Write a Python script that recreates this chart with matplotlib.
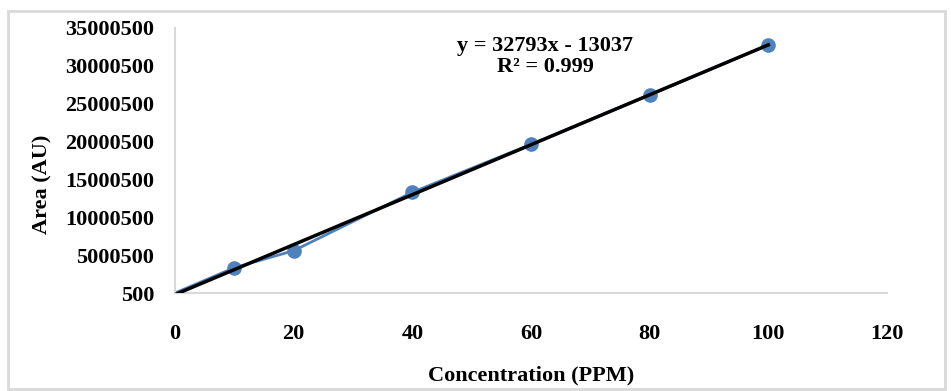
import numpy as np
import matplotlib
matplotlib.use("Agg")
import matplotlib.pyplot as plt
from matplotlib.patches import Rectangle

# datos
conc = [0, 10, 20, 40, 60, 80, 100]
area = [0, 3340000, 5590000, 13300000, 19640000, 26160000, 32760000]
yticks = [500, 5000500, 10000500, 15000500, 20000500, 25000500, 30000500, 35000500]
xticks = [0, 20, 40, 60, 80, 100, 120]
eq_text = "y = 32793x - 13037\nR\u00b2 = 0.999"

plt.rcParams['font.family'] = ['Liberation Serif', 'DejaVu Serif']
plt.rcParams['font.weight'] = 'bold'

fig = plt.figure(figsize=(9.51, 3.91), dpi=100)
fig.patches.append(Rectangle((8/951, 2/391), 937/951, 378/391, transform=fig.transFigure,
                             fill=False, edgecolor='#d9d9d9', linewidth=2))
ax = fig.add_axes([0.184, 0.2506, 0.7487, 0.6778])

# serie de datos (sin marcador en el origen)
ax.plot(conc, area, '-o', color='#4f81bd', linewidth=2, markersize=9.5,
        markevery=slice(1, None), zorder=2)

# linea de tendencia
m, b = np.polyfit(conc, area, 1)
xt = np.array([conc[0], conc[-1]])
ax.plot(xt, m*xt + b, color='black', linewidth=2.5, zorder=3)

ax.text(0.52, 0.97, eq_text, transform=ax.transAxes, ha='center', va='top',
        fontsize=16, fontweight='bold', linespacing=1.05)

ax.set_xlim(0, 120)
ax.set_ylim(500, 35000500)
ax.set_xticks(xticks)
ax.set_yticks(yticks)
ax.set_xticklabels([str(v) for v in xticks])
ax.set_yticklabels([str(v) for v in yticks])
ax.tick_params(axis='both', length=0, labelsize=16)
ax.tick_params(axis='y', pad=15)
ax.tick_params(axis='x', pad=22)

for s in ['top', 'right']:
    ax.spines[s].set_visible(False)
for s in ['left', 'bottom']:
    ax.spines[s].set_color('#d9d9d9')
    ax.spines[s].set_linewidth(1.5)

ax.set_xlabel('Concentration (PPM)', fontsize=16, fontweight='bold')
ax.set_ylabel('Area (AU)', fontsize=16, fontweight='bold')
ax.xaxis.set_label_coords(0.5, -0.275)
ax.yaxis.set_label_coords(-0.172, 0.41)

fig.savefig('out.png', dpi=100)
